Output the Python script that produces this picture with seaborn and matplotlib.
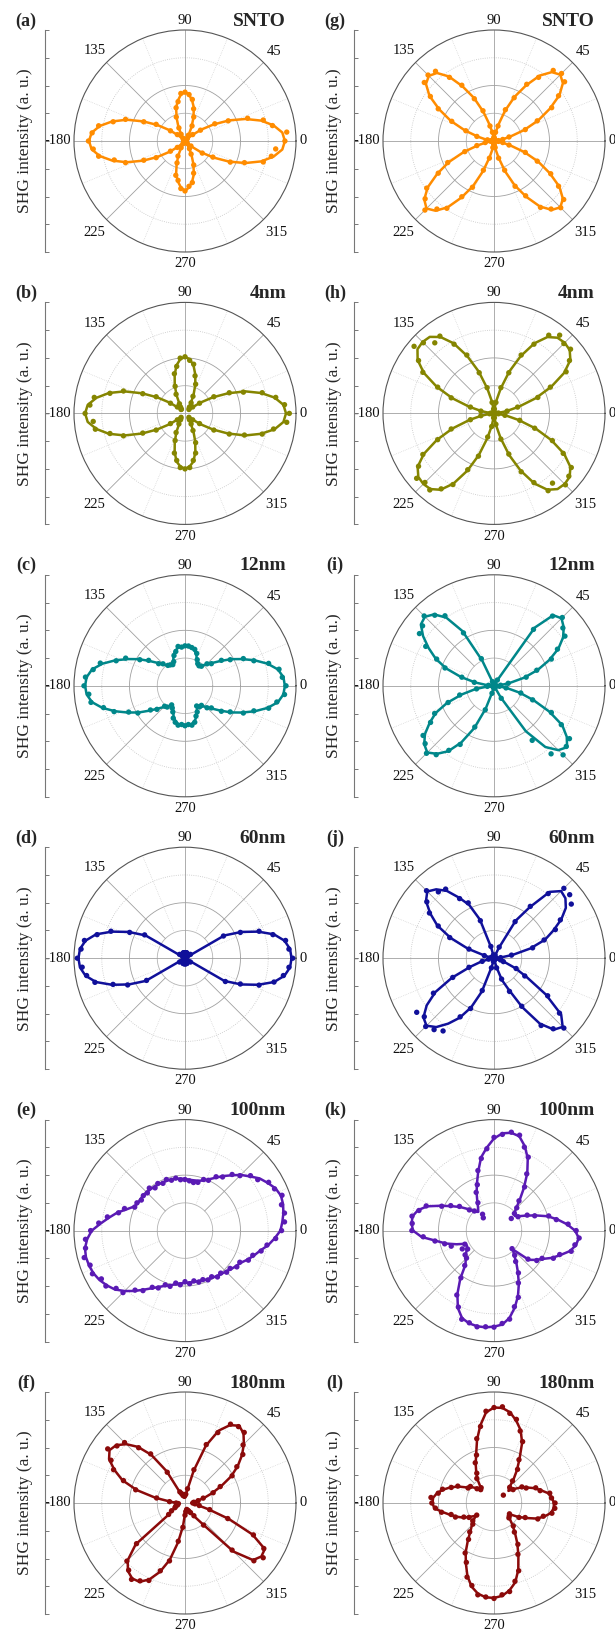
import numpy as np
import pandas as pd
import matplotlib
matplotlib.use("Agg")
import matplotlib.pyplot as plt
import seaborn as sns

# polar angle of every measurement (deg)
angles = np.arange(0, 360, 5)

# ---- left column (a)-(f): fitted curve and measured points, outer ring = 1
fit_a = [0.90, 0.88, 0.81, 0.71, 0.58, 0.44, 0.30, 0.18, 0.08, 0.02, 0.00, 0.02, 0.07, 0.14, 0.22, 0.31, 0.37, 0.42,
         0.44, 0.42, 0.37, 0.31, 0.22, 0.14, 0.07, 0.02, 0.00, 0.02, 0.08, 0.17, 0.29, 0.42, 0.56, 0.68, 0.78, 0.845,
         0.865, 0.845, 0.78, 0.68, 0.56, 0.42, 0.29, 0.17, 0.08, 0.02, 0.00, 0.02, 0.07, 0.14, 0.22, 0.31, 0.37, 0.42,
         0.45, 0.42, 0.37, 0.31, 0.22, 0.14, 0.07, 0.02, 0.00, 0.02, 0.08, 0.18, 0.30, 0.44, 0.58, 0.71, 0.81, 0.88]
dat_a = [0.90, 0.92, 0.80, 0.73, 0.60, 0.43, 0.31, 0.17, 0.09, 0.03, 0.01, 0.02, 0.06, 0.15, 0.23, 0.30, 0.38, 0.42,
         0.44, 0.43, 0.36, 0.31, 0.23, 0.13, 0.07, 0.03, 0.01, 0.02, 0.09, 0.16, 0.30, 0.41, 0.57, 0.67, 0.79, 0.84,
         0.87, 0.83, 0.79, 0.66, 0.57, 0.41, 0.30, 0.16, 0.09, 0.02, 0.01, 0.03, 0.07, 0.15, 0.21, 0.32, 0.36, 0.43,
         0.45, 0.41, 0.38, 0.30, 0.23, 0.13, 0.08, 0.02, 0.01, 0.03, 0.07, 0.19, 0.29, 0.45, 0.57, 0.73, 0.79, 0.82]

fit_b = [0.91, 0.89, 0.82, 0.71, 0.58, 0.43, 0.29, 0.17, 0.08, 0.04, 0.05, 0.06, 0.10, 0.18, 0.27, 0.36, 0.44, 0.49,
         0.51, 0.49, 0.44, 0.36, 0.27, 0.18, 0.10, 0.06, 0.05, 0.04, 0.08, 0.17, 0.29, 0.43, 0.58, 0.71, 0.81, 0.88,
         0.90, 0.88, 0.81, 0.71, 0.58, 0.43, 0.29, 0.17, 0.08, 0.04, 0.05, 0.06, 0.10, 0.18, 0.27, 0.36, 0.44, 0.48,
         0.50, 0.48, 0.44, 0.36, 0.27, 0.18, 0.10, 0.06, 0.05, 0.04, 0.08, 0.17, 0.29, 0.43, 0.58, 0.71, 0.82, 0.89]
dat_b = [0.94, 0.90, 0.83, 0.72, 0.56, 0.44, 0.30, 0.16, 0.09, 0.05, 0.06, 0.07, 0.11, 0.17, 0.28, 0.35, 0.45, 0.48,
         0.51, 0.50, 0.43, 0.37, 0.26, 0.19, 0.10, 0.07, 0.05, 0.05, 0.09, 0.16, 0.30, 0.42, 0.59, 0.70, 0.83, 0.86,
         0.90, 0.83, 0.82, 0.70, 0.59, 0.42, 0.30, 0.16, 0.09, 0.05, 0.06, 0.07, 0.11, 0.19, 0.26, 0.37, 0.43, 0.49,
         0.50, 0.49, 0.43, 0.37, 0.28, 0.17, 0.11, 0.07, 0.06, 0.05, 0.09, 0.16, 0.30, 0.44, 0.57, 0.72, 0.81, 0.92]

fit_c = [0.90, 0.89, 0.85, 0.77, 0.67, 0.57, 0.48, 0.39, 0.32, 0.27, 0.24, 0.22, 0.22, 0.25, 0.30, 0.33, 0.35, 0.35,
         0.355, 0.35, 0.35, 0.33, 0.30, 0.25, 0.22, 0.22, 0.24, 0.27, 0.32, 0.39, 0.48, 0.57, 0.67, 0.77, 0.85, 0.89,
         0.90, 0.89, 0.85, 0.77, 0.67, 0.57, 0.48, 0.39, 0.32, 0.27, 0.24, 0.22, 0.22, 0.25, 0.30, 0.33, 0.35, 0.355,
         0.355, 0.355, 0.35, 0.33, 0.30, 0.25, 0.22, 0.22, 0.24, 0.27, 0.32, 0.39, 0.48, 0.57, 0.67, 0.77, 0.85, 0.89]
dat_c = [0.91, 0.88, 0.86, 0.78, 0.66, 0.58, 0.47, 0.40, 0.31, 0.28, 0.23, 0.22, 0.23, 0.26, 0.31, 0.34, 0.35, 0.36,
         0.36, 0.35, 0.36, 0.32, 0.29, 0.24, 0.22, 0.23, 0.24, 0.28, 0.31, 0.40, 0.47, 0.59, 0.66, 0.79, 0.84, 0.90,
         0.91, 0.87, 0.86, 0.76, 0.68, 0.56, 0.49, 0.38, 0.33, 0.26, 0.25, 0.21, 0.23, 0.26, 0.31, 0.34, 0.36, 0.35,
         0.36, 0.35, 0.36, 0.34, 0.29, 0.26, 0.21, 0.23, 0.23, 0.28, 0.31, 0.40, 0.47, 0.58, 0.66, 0.78, 0.84, 0.90]

fit_d = [0.96, 0.95, 0.91, 0.83, 0.70, 0.56, 0.41, 0.00, 0.00, 0.00, 0.00, 0.00, 0.00, 0.00, 0.00, 0.00, 0.00, 0.00,
         0.00, 0.00, 0.00, 0.00, 0.00, 0.00, 0.00, 0.00, 0.00, 0.00, 0.00, 0.00, 0.41, 0.56, 0.70, 0.83, 0.91, 0.95,
         0.96, 0.95, 0.91, 0.83, 0.70, 0.56, 0.41, 0.00, 0.00, 0.00, 0.00, 0.00, 0.00, 0.00, 0.00, 0.00, 0.00, 0.00,
         0.00, 0.00, 0.00, 0.00, 0.00, 0.00, 0.00, 0.00, 0.00, 0.00, 0.00, 0.00, 0.41, 0.56, 0.70, 0.83, 0.91, 0.95]
dat_d = [0.97, 0.94, 0.92, 0.82, 0.71, 0.55, 0.40, 0.06, 0.04, 0.03, 0.03, 0.03, 0.04, 0.04, 0.05, 0.05, 0.05, 0.05,
         0.05, 0.05, 0.05, 0.05, 0.05, 0.04, 0.04, 0.03, 0.03, 0.03, 0.04, 0.06, 0.42, 0.55, 0.71, 0.82, 0.92, 0.94,
         0.97, 0.93, 0.90, 0.84, 0.69, 0.57, 0.40, 0.06, 0.04, 0.03, 0.03, 0.03, 0.04, 0.04, 0.05, 0.05, 0.05, 0.05,
         0.05, 0.05, 0.05, 0.05, 0.05, 0.04, 0.04, 0.03, 0.03, 0.03, 0.04, 0.06, 0.42, 0.55, 0.71, 0.83, 0.90, 0.94]

fit_e = [0.86, 0.88, 0.90, 0.915, 0.92, 0.90, 0.86, 0.82, 0.76, 0.71, 0.65, 0.60, 0.55, 0.51, 0.48, 0.465, 0.46, 0.46,
         0.465, 0.47, 0.475, 0.477, 0.478, 0.478, 0.48, 0.483, 0.485, 0.487, 0.49, 0.49, 0.49, 0.51, 0.56, 0.63, 0.69, 0.76,
         0.84, 0.885, 0.915, 0.924, 0.92, 0.91, 0.89, 0.86, 0.825, 0.77, 0.71, 0.65, 0.60, 0.56, 0.53, 0.51, 0.49, 0.478,
         0.472, 0.47, 0.47, 0.47, 0.475, 0.485, 0.49, 0.50, 0.51, 0.52, 0.54, 0.56, 0.58, 0.62, 0.66, 0.70, 0.76, 0.81]
dat_e = [0.87, 0.90, 0.91, 0.90, 0.93, 0.89, 0.87, 0.80, 0.77, 0.70, 0.66, 0.59, 0.56, 0.50, 0.49, 0.45, 0.44, 0.45,
         0.46, 0.46, 0.48, 0.47, 0.49, 0.47, 0.49, 0.47, 0.50, 0.48, 0.49, 0.48, 0.50, 0.50, 0.58, 0.62, 0.71, 0.78,
         0.85, 0.90, 0.91, 0.94, 0.91, 0.92, 0.87, 0.87, 0.81, 0.79, 0.70, 0.66, 0.59, 0.57, 0.52, 0.52, 0.48, 0.49,
         0.46, 0.48, 0.46, 0.48, 0.47, 0.49, 0.48, 0.51, 0.50, 0.53, 0.53, 0.57, 0.57, 0.63, 0.65, 0.71, 0.75, 0.82]

fit_f = [0.06, 0.07, 0.11, 0.18, 0.26, 0.36, 0.48, 0.58, 0.67, 0.75, 0.82, 0.85, 0.81, 0.72, 0.55, 0.30, 0.12, 0.07,
         0.06, 0.06, 0.06, 0.07, 0.08, 0.10, 0.33, 0.53, 0.66, 0.75, 0.81, 0.83, 0.79, 0.70, 0.60, 0.45, 0.27, 0.13,
         0.07, 0.06, 0.06, 0.07, 0.08, 0.10, 0.13, 0.17, 0.58, 0.73, 0.80, 0.83, 0.82, 0.76, 0.66, 0.53, 0.36, 0.21,
         0.10, 0.07, 0.06, 0.06, 0.06, 0.07, 0.09, 0.15, 0.25, 0.62, 0.80, 0.84, 0.83, 0.67, 0.42, 0.22, 0.12, 0.08]
dat_f = [0.07, 0.08, 0.12, 0.17, 0.27, 0.35, 0.49, 0.57, 0.68, 0.74, 0.83, 0.84, 0.82, 0.70, 0.56, 0.31, 0.13, 0.08,
         0.07, 0.06, 0.07, 0.07, 0.09, 0.11, 0.32, 0.54, 0.65, 0.77, 0.80, 0.85, 0.77, 0.71, 0.59, 0.46, 0.26, 0.14,
         0.08, 0.06, 0.07, 0.07, 0.09, 0.10, 0.14, 0.18, 0.57, 0.74, 0.79, 0.84, 0.81, 0.77, 0.65, 0.54, 0.35, 0.22,
         0.11, 0.08, 0.07, 0.06, 0.07, 0.08, 0.10, 0.14, 0.26, 0.60, 0.81, 0.86, 0.82, 0.68, 0.41, 0.23, 0.13, 0.09]

# ---- right column (g)-(l)
fit_g = [0.00, 0.02, 0.07, 0.15, 0.29, 0.44, 0.58, 0.72, 0.81, 0.845, 0.81, 0.72, 0.58, 0.44, 0.29, 0.15, 0.07, 0.02,
         0.00, 0.02, 0.07, 0.15, 0.28, 0.43, 0.57, 0.71, 0.80, 0.83, 0.80, 0.71, 0.57, 0.43, 0.28, 0.15, 0.07, 0.02,
         0.00, 0.02, 0.07, 0.15, 0.29, 0.45, 0.59, 0.73, 0.82, 0.86, 0.82, 0.73, 0.59, 0.45, 0.29, 0.15, 0.07, 0.02,
         0.00, 0.02, 0.07, 0.15, 0.29, 0.44, 0.58, 0.72, 0.81, 0.845, 0.81, 0.72, 0.58, 0.44, 0.29, 0.15, 0.07, 0.02]
dat_g = [0.02, 0.04, 0.08, 0.14, 0.30, 0.43, 0.60, 0.71, 0.83, 0.86, 0.83, 0.70, 0.59, 0.43, 0.30, 0.14, 0.08, 0.03,
         0.02, 0.03, 0.08, 0.14, 0.29, 0.42, 0.58, 0.70, 0.82, 0.84, 0.82, 0.70, 0.58, 0.42, 0.27, 0.16, 0.06, 0.03,
         0.02, 0.03, 0.08, 0.16, 0.28, 0.46, 0.58, 0.74, 0.81, 0.88, 0.80, 0.74, 0.58, 0.46, 0.28, 0.16, 0.06, 0.03,
         0.02, 0.04, 0.06, 0.16, 0.28, 0.45, 0.57, 0.73, 0.80, 0.85, 0.82, 0.71, 0.59, 0.43, 0.30, 0.14, 0.08, 0.04]

fit_h = [0.00, 0.03, 0.11, 0.23, 0.40, 0.57, 0.73, 0.84, 0.89, 0.90, 0.89, 0.84, 0.73, 0.57, 0.40, 0.23, 0.11, 0.03,
         0.00, 0.03, 0.11, 0.23, 0.40, 0.57, 0.73, 0.84, 0.90, 0.91, 0.90, 0.84, 0.73, 0.57, 0.40, 0.23, 0.11, 0.03,
         0.00, 0.03, 0.11, 0.23, 0.40, 0.57, 0.73, 0.84, 0.89, 0.90, 0.89, 0.84, 0.73, 0.57, 0.40, 0.23, 0.11, 0.03,
         0.00, 0.03, 0.11, 0.23, 0.40, 0.57, 0.73, 0.84, 0.89, 0.90, 0.89, 0.84, 0.73, 0.57, 0.40, 0.23, 0.11, 0.03]
dat_h = [0.02, 0.04, 0.12, 0.22, 0.42, 0.56, 0.75, 0.83, 0.90, 0.89, 0.92, 0.86, 0.72, 0.58, 0.39, 0.24, 0.10, 0.04,
         0.02, 0.04, 0.10, 0.24, 0.39, 0.58, 0.72, 0.85, 0.83, 0.90, 0.94, 0.83, 0.74, 0.56, 0.41, 0.22, 0.12, 0.03,
         0.02, 0.04, 0.12, 0.22, 0.41, 0.56, 0.74, 0.83, 0.91, 0.88, 0.90, 0.83, 0.74, 0.56, 0.41, 0.22, 0.12, 0.04,
         0.02, 0.04, 0.10, 0.24, 0.39, 0.58, 0.72, 0.85, 0.82, 0.91, 0.88, 0.85, 0.72, 0.58, 0.39, 0.24, 0.10, 0.04]

fit_i = [0.00, 0.05, 0.14, 0.28, 0.42, 0.55, 0.67, 0.76, 0.82, 0.86, 0.83, 0.64, 0.05, 0.00, 0.00, 0.00, 0.00, 0.00,
         0.00, 0.00, 0.00, 0.00, 0.03, 0.25, 0.57, 0.75, 0.84, 0.88, 0.86, 0.78, 0.68, 0.58, 0.46, 0.31, 0.17, 0.06,
         0.00, 0.05, 0.17, 0.30, 0.45, 0.58, 0.67, 0.76, 0.82, 0.85, 0.80, 0.72, 0.59, 0.42, 0.22, 0.06, 0.00, 0.00,
         0.00, 0.00, 0.00, 0.00, 0.00, 0.00, 0.12, 0.50, 0.72, 0.82, 0.86, 0.80, 0.71, 0.55, 0.38, 0.24, 0.12, 0.04]
dat_i = [0.02, 0.06, 0.13, 0.30, 0.41, 0.57, 0.66, 0.78, 0.81, 0.87, 0.82, 0.62, 0.06, 0.02, 0.01, 0.01, 0.01, 0.01,
         0.01, 0.01, 0.01, 0.02, 0.04, 0.27, 0.55, 0.77, 0.83, 0.89, 0.84, 0.82, 0.71, 0.57, 0.47, 0.30, 0.18, 0.05,
         0.02, 0.06, 0.16, 0.32, 0.44, 0.59, 0.66, 0.78, 0.81, 0.86, 0.81, 0.71, 0.61, 0.41, 0.23, 0.07, 0.02, 0.01,
         0.01, 0.01, 0.01, 0.01, 0.02, 0.02, 0.13, 0.60, 0.80, 0.88, 0.85, 0.83, 0.70, 0.57, 0.37, 0.25, 0.11, 0.05]

fit_j = [0.00, 0.05, 0.17, 0.34, 0.49, 0.59, 0.70, 0.79, 0.84, 0.855, 0.78, 0.56, 0.39, 0.10, 0.02, 0.00, 0.00, 0.00,
         0.00, 0.00, 0.02, 0.10, 0.37, 0.53, 0.63, 0.74, 0.81, 0.85, 0.80, 0.70, 0.59, 0.43, 0.25, 0.08, 0.02, 0.00,
         0.00, 0.00, 0.04, 0.12, 0.23, 0.42, 0.61, 0.74, 0.83, 0.86, 0.81, 0.72, 0.62, 0.49, 0.32, 0.08, 0.02, 0.00,
         0.00, 0.00, 0.00, 0.08, 0.21, 0.31, 0.51, 0.72, 0.84, 0.875, 0.79, 0.57, 0.34, 0.21, 0.10, 0.05, 0.02, 0.00]
dat_j = [0.02, 0.06, 0.16, 0.36, 0.48, 0.61, 0.69, 0.85, 0.89, 0.89, 0.76, 0.57, 0.38, 0.11, 0.03, 0.01, 0.01, 0.01,
         0.01, 0.01, 0.03, 0.11, 0.36, 0.55, 0.62, 0.76, 0.78, 0.86, 0.79, 0.71, 0.58, 0.44, 0.24, 0.09, 0.03, 0.01,
         0.01, 0.01, 0.05, 0.11, 0.24, 0.41, 0.63, 0.85, 0.82, 0.87, 0.84, 0.80, 0.61, 0.50, 0.31, 0.09, 0.03, 0.01,
         0.01, 0.01, 0.02, 0.09, 0.20, 0.33, 0.50, 0.74, 0.83, 0.89, 0.77, 0.59, 0.32, 0.22, 0.09, 0.06, 0.02, 0.01]

fit_k = [0.73, 0.66, 0.58, 0.50, 0.40, 0.32, 0.26, 0.23, 0.24, 0.28, 0.36, 0.47, 0.60, 0.72, 0.81, 0.88, 0.895, 0.88,
         0.83, 0.75, 0.67, 0.55, 0.45, 0.37, 0.30, 0.25, 0.22, 0.24, 0.30, 0.37, 0.44, 0.53, 0.64, 0.71, 0.745, 0.745,
         0.73, 0.655, 0.53, 0.45, 0.36, 0.28, 0.28, 0.30, 0.33, 0.36, 0.40, 0.53, 0.66, 0.77, 0.84, 0.865, 0.875, 0.875,
         0.865, 0.85, 0.80, 0.72, 0.63, 0.53, 0.43, 0.35, 0.28, 0.24, 0.41, 0.46, 0.51, 0.58, 0.64, 0.71, 0.75, 0.767]
dat_k = [0.74, 0.67, 0.57, 0.51, 0.39, 0.33, 0.25, 0.19, 0.24, 0.29, 0.35, 0.48, 0.59, 0.73, 0.80, 0.89, 0.90, 0.87,
         0.84, 0.74, 0.66, 0.56, 0.44, 0.38, 0.29, 0.18, 0.15, 0.25, 0.29, 0.38, 0.45, 0.52, 0.65, 0.70, 0.75, 0.74,
         0.74, 0.64, 0.54, 0.46, 0.41, 0.29, 0.33, 0.29, 0.34, 0.35, 0.41, 0.52, 0.67, 0.76, 0.85, 0.86, 0.88, 0.87,
         0.87, 0.84, 0.81, 0.71, 0.64, 0.52, 0.44, 0.34, 0.29, 0.23, 0.40, 0.47, 0.50, 0.59, 0.63, 0.72, 0.74, 0.77]

fit_l = [0.54, 0.525, 0.50, 0.44, 0.39, 0.33, 0.28, 0.22, 0.17, 0.19, 0.27, 0.36, 0.46, 0.60, 0.70, 0.77, 0.83, 0.86,
         0.86, 0.82, 0.71, 0.59, 0.47, 0.39, 0.32, 0.26, 0.19, 0.16, 0.21, 0.25, 0.28, 0.35, 0.415, 0.47, 0.52, 0.55,
         0.555, 0.54, 0.47, 0.41, 0.36, 0.31, 0.25, 0.20, 0.24, 0.28, 0.33, 0.41, 0.51, 0.60, 0.70, 0.78, 0.83, 0.853,
         0.855, 0.84, 0.80, 0.74, 0.64, 0.52, 0.42, 0.33, 0.26, 0.20, 0.17, 0.18, 0.25, 0.32, 0.41, 0.47, 0.52, 0.54]
dat_l = [0.55, 0.52, 0.51, 0.43, 0.40, 0.32, 0.29, 0.21, 0.11, 0.20, 0.26, 0.37, 0.45, 0.61, 0.69, 0.78, 0.82, 0.87,
         0.86, 0.83, 0.70, 0.60, 0.46, 0.40, 0.31, 0.27, 0.18, 0.17, 0.20, 0.26, 0.27, 0.36, 0.41, 0.48, 0.51, 0.57,
         0.56, 0.53, 0.48, 0.40, 0.37, 0.30, 0.26, 0.19, 0.25, 0.27, 0.34, 0.40, 0.52, 0.59, 0.71, 0.77, 0.84, 0.85,
         0.86, 0.83, 0.81, 0.73, 0.65, 0.51, 0.43, 0.32, 0.27, 0.19, 0.18, 0.17, 0.26, 0.31, 0.42, 0.46, 0.53, 0.55]

samples = ["SNTO", "4nm", "12nm", "60nm", "100nm", "180nm"]
left_letters = ["(a)", "(b)", "(c)", "(d)", "(e)", "(f)"]
right_letters = ["(g)", "(h)", "(i)", "(j)", "(k)", "(l)"]
left_fits = [fit_a, fit_b, fit_c, fit_d, fit_e, fit_f]
left_dats = [dat_a, dat_b, dat_c, dat_d, dat_e, dat_f]
right_fits = [fit_g, fit_h, fit_i, fit_j, fit_k, fit_l]
right_dats = [dat_g, dat_h, dat_i, dat_j, dat_k, dat_l]
colors = ["#FF8C00", "#858500", "#00878A", "#10109A", "#5A1AB4", "#8B0A0A"]

angle_labels = {0: ("0", 1.065), 45: ("45", 1.14), 90: ("90", 1.085), 135: ("135", 1.15),
                180: ("-180", 1.145), 225: ("225", 1.16), 270: ("270", 1.105), 315: ("315", 1.16)}

sns.set_theme(style="white")
plt.rcParams["font.family"] = ["Liberation Serif", "DejaVu Serif"]

W, H = 615, 1636
R = 111
fig = plt.figure(figsize=(W / 100, H / 100), dpi=100)

th = np.linspace(0, 2 * np.pi, 361)


def draw_panel(cx, cy, letter, title, fit, dat, color):
    ax = fig.add_axes([(cx - R) / W, 1 - (cy + R) / H, 2 * R / W, 2 * R / H], projection="polar")
    # grid, drawn by hand to get the partial spokes
    for rr, ls, col in [(0.25, "-", "#b4b4b4"), (0.5, "-", "#a0a0a0"), (0.75, ":", "#c4c4c4")]:
        ax.plot(th, np.full_like(th, rr), ls=ls, color=col, lw=0.6, zorder=1)
    for a in range(0, 360, 45):
        r0 = 0 if a % 90 == 0 else 0.25
        ax.plot([np.deg2rad(a)] * 2, [r0, 1], color="#a0a0a0", lw=0.6, zorder=1)
    for a in np.arange(22.5, 360, 45):
        ax.plot([np.deg2rad(a)] * 2, [0.25, 1], color="#cccccc", lw=0.5, ls=":", zorder=1)

    ang = np.deg2rad(np.append(angles, 360))
    df_fit = pd.DataFrame({"theta": ang, "r": np.append(fit, fit[0])})
    df_dat = pd.DataFrame({"theta": np.deg2rad(angles), "r": dat})
    sns.lineplot(data=df_fit, x="theta", y="r", ax=ax, sort=False, estimator=None,
                 color=color, lw=1.8, zorder=3)
    sns.scatterplot(data=df_dat, x="theta", y="r", ax=ax, color=color, s=15,
                    edgecolor="none", zorder=4)

    ax.set_ylim(0, 1)
    ax.set_xticks([])
    ax.set_yticks([])
    ax.grid(False)
    ax.set_xlabel("")
    ax.set_ylabel("")
    ax.spines["polar"].set_edgecolor("#555555")
    ax.spines["polar"].set_linewidth(0.8)
    for a, (lab, rl) in angle_labels.items():
        ax.text(np.deg2rad(a), rl, lab, ha="center", va="center", fontsize=10.5, color="#111111")

    # radial intensity axis on the left
    lax = fig.add_axes([(cx - 140) / W, 1 - (cy + R) / H, 2 / W, 2 * R / H])
    lax.patch.set_alpha(0)
    lax.set_ylim(-1, 1)
    lax.set_xlim(0, 1)
    lax.set_yticks(np.linspace(-1, 1, 9))
    lax.set_yticklabels([])
    lax.set_xticks([])
    for s in ["top", "right", "bottom"]:
        lax.spines[s].set_visible(False)
    lax.spines["left"].set_color("#777777")
    lax.spines["left"].set_linewidth(0.8)
    lax.tick_params(axis="y", direction="in", length=3, width=0.7, color="#777777", left=True)
    lax.set_ylabel("SHG intensity (a. u.)", fontsize=12.5, labelpad=5)

    fig.text((cx - 159) / W, 1 - (cy - 120) / H, letter, ha="center", va="center",
             fontsize=13, fontweight="bold")
    fig.text((cx + 101) / W, 1 - (cy - 120) / H, title, ha="right", va="center",
             fontsize=14, fontweight="bold")


for i in range(6):
    cy = 141 + 272.4 * i
    draw_panel(185, cy, left_letters[i], samples[i], left_fits[i], left_dats[i], colors[i])
    draw_panel(494, cy, right_letters[i], samples[i], right_fits[i], right_dats[i], colors[i])

fig.savefig("out.png", dpi=100)
